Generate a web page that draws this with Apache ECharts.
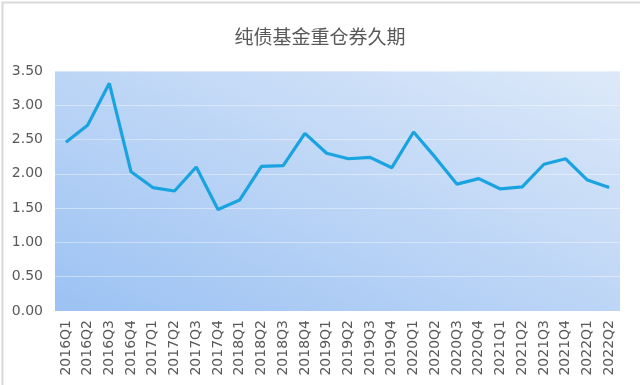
<!DOCTYPE html>
<html><head><meta charset="utf-8">
<script src="https://cdn.jsdelivr.net/npm/echarts@6/dist/echarts.min.js"></script>
<style>html,body{margin:0;padding:0;background:#fff}#c{width:640px;height:385px}</style>
</head><body><div id="c"></div>
<script>
const categories = ['2016Q1','2016Q2','2016Q3','2016Q4','2017Q1','2017Q2','2017Q3','2017Q4','2018Q1','2018Q2','2018Q3','2018Q4','2019Q1','2019Q2','2019Q3','2019Q4','2020Q1','2020Q2','2020Q3','2020Q4','2021Q1','2021Q2','2021Q3','2021Q4','2022Q1','2022Q2'];
const duration = [2.46,2.71,3.32,2.03,1.80,1.75,2.10,1.48,1.62,2.11,2.12,2.59,2.30,2.22,2.24,2.09,2.61,2.24,1.85,1.93,1.78,1.81,2.14,2.22,1.91,1.80];
const titleText = '纯债基金重仓券久期';

const chart = echarts.init(document.getElementById('c'), null, {renderer:'canvas'});
chart.setOption({
  animation: false,
  backgroundColor: '#ffffff',
  title: {text: titleText, left: 'center', top: 22,
    textStyle: {color: '#595959', fontSize: 19, fontWeight: 'normal', fontFamily: 'Noto Sans CJK SC'}},
  graphic: [{type:'rect', left:0, top:0, shape:{width:639, height:384}, style:{fill:'none', stroke:'#d9d9d9', lineWidth:2}, silent:true}],
  grid: {left: 55, right: 20, top: 71, bottom: 74, show: true, borderWidth: 0,
    backgroundColor: {type:'linear', x:0.347, y:1.346, x2:0.652, y2:-0.346, colorStops:[{offset:0,color:'#9cc2f3'},{offset:1,color:'#dde9f9'}]}},
  xAxis: {type:'category', data: categories, boundaryGap: true,
    axisLine:{show:false}, axisTick:{show:false},
    axisLabel:{rotate:90, interval:0, color:'#595959', fontSize:14, margin:9, fontFamily:'DejaVu Sans'}},
  yAxis: {type:'value', min:0, max:3.5, interval:0.5,
    axisLabel:{formatter: v => v.toFixed(2), color:'#595959', fontSize:14, margin:12, fontFamily:'DejaVu Sans'},
    axisLine:{show:false}, axisTick:{show:false},
    splitLine:{lineStyle:{color:'rgba(255,255,255,0.4)', width:1}}},
  series: [{type:'line', data: duration, symbol:'none', lineStyle:{color:'#19a3e0', width:3.2}, itemStyle:{color:'#19a3e0'}}]
});
</script></body></html>
